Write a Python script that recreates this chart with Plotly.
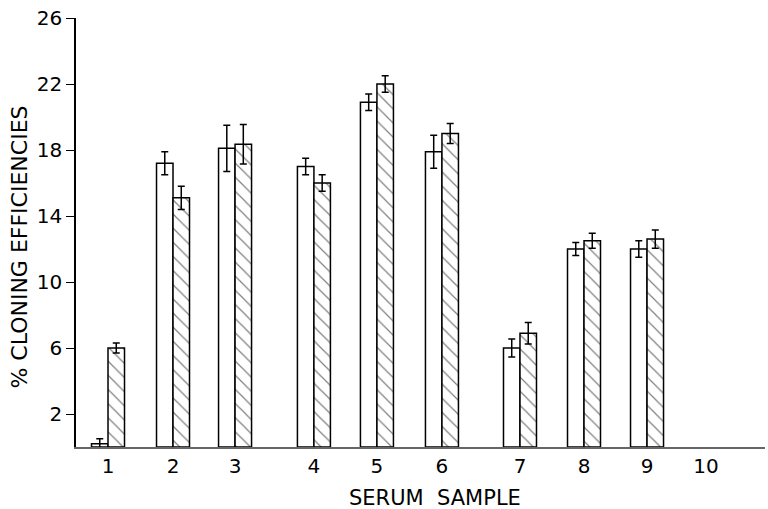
import plotly.graph_objects as go

# ---- data ----
samples = ["1", "2", "3", "4", "5", "6", "7", "8", "9", "10"]
open_vals = [0.2, 17.2, 18.1, 17.0, 20.9, 17.9, 6.0, 12.0, 12.0, None]
open_err = [0.3, 0.7, 1.4, 0.5, 0.5, 1.0, 0.55, 0.4, 0.5, None]
hatched_vals = [6.0, 15.1, 18.35, 16.0, 22.0, 19.0, 6.9, 12.5, 12.6, None]
hatched_err = [0.3, 0.7, 1.2, 0.5, 0.5, 0.6, 0.65, 0.45, 0.55, None]
y_ticks = [2, 6, 10, 14, 18, 22, 26]

# ---- layout (slot positions of each sample along the axis, uneven as in figure) ----
slot_pos = [1.94, 5.88, 9.64, 14.42, 18.24, 22.18, 26.91, 30.79, 34.61, 38.18]
bar_w = 1.0

FONT = "DejaVu Sans"

fig = go.Figure()
fig.add_trace(go.Bar(
    x=[p - bar_w / 2 for p in slot_pos], y=open_vals, width=bar_w,
    marker=dict(color="white", line=dict(color="black", width=1.5)),
    error_y=dict(type="data", array=open_err, visible=True, color="black",
                 thickness=1.5, width=3.5),
    name="open", showlegend=False,
))
fig.add_trace(go.Bar(
    x=[p + bar_w / 2 for p in slot_pos], y=hatched_vals, width=bar_w,
    marker=dict(color="white", line=dict(color="black", width=1.5),
                pattern=dict(shape="\\", fgcolor="black", bgcolor="white",
                             size=10, solidity=0.12)),
    error_y=dict(type="data", array=hatched_err, visible=True, color="black",
                 thickness=1.5, width=3.5),
    name="hatched", showlegend=False,
))

fig.update_layout(
    width=768, height=509,
    margin=dict(l=76, r=3, t=18, b=62),
    paper_bgcolor="white", plot_bgcolor="white",
    barmode="overlay",
    font=dict(family=FONT, color="black", size=18),
    xaxis=dict(
        range=[0, 41.76], tickmode="array", tickvals=slot_pos, ticktext=samples,
        showline=True, linecolor="#666", linewidth=1.5, ticks="",
        ticklabelstandoff=0, showgrid=False, zeroline=False,
        tickfont=dict(family=FONT, size=20),
    ),
    yaxis=dict(
        range=[0, 26], tickmode="array", tickvals=y_ticks,
        showline=True, linecolor="black", linewidth=1.5,
        ticks="outside", ticklen=8, tickwidth=1.2, tickcolor="black",
        showgrid=False, zeroline=False,
        tickfont=dict(family=FONT, size=20),
    ),
    annotations=[
        dict(text="% CLONING EFFICIENCIES", textangle=-90, xref="paper", yref="paper",
             x=-0.082, y=0.466, xanchor="center", yanchor="middle", showarrow=False,
             font=dict(family=FONT, size=22)),
        dict(text="SERUM  SAMPLE", xref="paper", yref="paper",
             x=0.521, y=-0.118, xanchor="center", yanchor="middle", showarrow=False,
             font=dict(family=FONT, size=21)),
    ],
)

fig.write_html("out.html", config={"displayModeBar": False},
               post_script="document.body.style.margin='0';")
